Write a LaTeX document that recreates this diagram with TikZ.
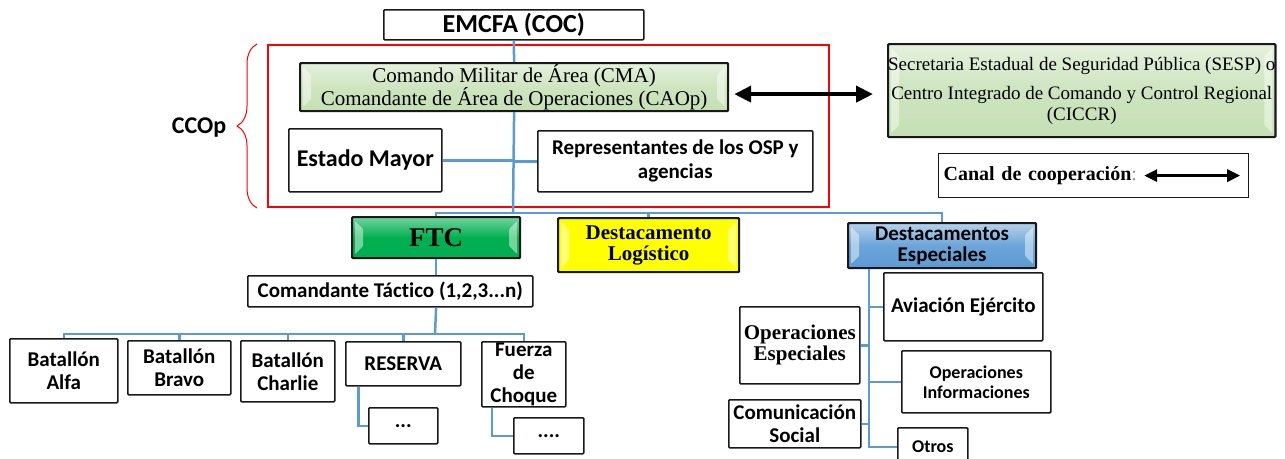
\documentclass[tikz,border=0pt]{standalone}
\usepackage{fontspec}
\setmainfont{Liberation Serif}
\newfontfamily\calibri{Carlito}[Ligatures=NoCommon]
\usetikzlibrary{arrows.meta}
\usetikzlibrary{decorations.pathreplacing}

\definecolor{orgline}{RGB}{91,155,213}
\definecolor{boxline}{RGB}{25,25,25}
\definecolor{cmagreen}{RGB}{197,224,180}
\definecolor{ftcgreen}{RGB}{0,176,80}
\definecolor{logyellow}{RGB}{255,255,0}
\definecolor{espblue}{RGB}{91,155,213}

\begin{document}
\begin{tikzpicture}[x=1pt,y=-1pt,inner sep=0pt]
\tikzstyle{every node}=[align=center]
\tikzstyle{box}=[draw=boxline,line width=1.6pt,fill=white,rounded corners=1pt,anchor=north west]
\tikzstyle{bevel}=[path picture={
  \fill[white,opacity=0.45] ([shift={(3,4)}]path picture bounding box.north west) -- ++(8,8)
    -- ([shift={(11,-12)}]path picture bounding box.south west) -- ++(-8,8) -- cycle;
  \fill[white,opacity=0.45] ([shift={(-3,4)}]path picture bounding box.north east) -- ++(-8,8)
    -- ([shift={(-11,-12)}]path picture bounding box.south east) -- ++(8,8) -- cycle;}]
\tikzstyle{colbox}=[box,line width=2.2pt,bevel]
\tikzstyle{sans}=[font=\calibri\bfseries\fontsize{21pt}{23pt}\selectfont]
\tikzstyle{serifb}=[font=\bfseries\fontsize{21pt}{21pt}\selectfont]
\tikzstyle{link}=[draw=orgline,line width=2.5pt]
\tikzstyle{coop}=[{Triangle[length=17pt,width=16pt]}-{Triangle[length=17pt,width=16pt]},line width=4pt]
\useasboundingbox (0,0) rectangle (1285,458);
\clip (0,0) rectangle (1285,458);

% comando operacional conjunto
\node[draw=red,line width=2pt,anchor=north west,minimum width=561,minimum height=162] (ccopframe) at (267,44) {};
\draw[red,line width=1pt,decorate,decoration={brace,amplitude=20pt}]
  ([xshift=-10pt]ccopframe.south west) -- ([xshift=-10pt]ccopframe.north west);
\node[sans,font=\calibri\bfseries\fontsize{24pt}{26pt}\selectfont] (ccop) at (199,128) {CCOp};

\node[box,sans,font=\calibri\bfseries\fontsize{26pt}{28pt}\selectfont,minimum width=260,minimum height=30] (emcfa) at (383,9) {EMCFA (COC)};
\node[colbox,top color=cmagreen!45!white,bottom color=cmagreen,middle color=cmagreen!85!white,
  font=\fontsize{21pt}{20pt}\selectfont,minimum width=428,minimum height=48] (cma) at (299,62)
  {Comando Militar de Área (CMA)\\Comandante de Área de Operaciones (CAOp)};
\node[box,sans,font=\calibri\bfseries\fontsize{24pt}{26pt}\selectfont,minimum width=153,minimum height=63] (estado) at (288,128) {Estado Mayor};
\node[box,sans,font=\calibri\bfseries\fontsize{21pt}{24pt}\selectfont,minimum width=275,minimum height=61] (repr) at (537,130) {Representantes de los OSP y\\agencias};

\node[colbox,top color=cmagreen!45!white,bottom color=cmagreen,middle color=cmagreen!85!white,
  font=\fontsize{19pt}{21pt}\selectfont,minimum width=387,minimum height=93] (sesp) at (887,43)
  {Secretaria Estadual de Seguridad Pública (SESP) o\\[8pt]Centro Integrado de Comando y Control Regional\\(CICCR)};
\node[box,rounded corners=0pt,line width=1.2pt,font=\bfseries\fontsize{20pt}{22pt}\selectfont,text width=300,align=left,
  inner xsep=5pt,minimum height=44] (canal) at (938,153) {Canal de cooperación\textcolor{orgline}{\mdseries:}};
\draw[{Triangle[length=13pt,width=12pt]}-{Triangle[length=13pt,width=12pt]},line width=3pt]
  ([xshift=-105pt]canal.east) -- ([xshift=-9pt]canal.east);

% fuerzas subordinadas
\node[colbox,top color=ftcgreen!55!white,bottom color=ftcgreen,middle color=ftcgreen,
  font=\bfseries\fontsize{27pt}{27pt}\selectfont,minimum width=168,minimum height=41] (ftc) at (351,216) {FTC};
\node[colbox,fill=logyellow,serifb,minimum width=181,minimum height=54] (log) at (557,217) {Destacamento\\Logístico};
\node[colbox,top color=espblue!45!white,bottom color=espblue,middle color=espblue!90!white,
  sans,font=\calibri\bfseries\fontsize{21pt}{21pt}\selectfont,minimum width=188,minimum height=45] (esp) at (847,222) {Destacamentos\\Especiales};

\node[box,sans,minimum width=285,minimum height=31] (cmdt) at (247,275) {Comandante Táctico (1,2,3...n)};
\node[box,sans,minimum width=108,minimum height=64] (alfa) at (9,338) {Batallón\\Alfa};
\node[box,sans,minimum width=103,minimum height=54] (bravo) at (127,340) {Batallón\\Bravo};
\node[box,sans,minimum width=94,minimum height=61] (charlie) at (240,340) {Batallón\\Charlie};
\node[box,sans,minimum width=115,minimum height=44] (reserva) at (345,341) {RESERVA};
\node[box,sans,minimum width=84,minimum height=65] (fuerza) at (481,341) {Fuerza\\de\\Choque};
\node[box,sans,minimum width=69,minimum height=36] (resdots) at (368,407) {...};
\node[box,sans,minimum width=70,minimum height=36] (fzadots) at (513,417) {....};

\node[box,sans,minimum width=159,minimum height=68] (aviacion) at (883,272) {Aviación Ejército};
\node[box,serifb,minimum width=120,minimum height=77] (opesp) at (739,306) {Operaciones\\Especiales};
\node[box,sans,font=\calibri\bfseries\fontsize{18pt}{20pt}\selectfont,minimum width=149,minimum height=62] (opinf) at (901,350) {Operaciones\\Informaciones};
\node[box,sans,minimum width=132,minimum height=48] (comsoc) at (728,399) {Comunicación\\Social};
\node[box,sans,font=\calibri\bfseries\fontsize{18pt}{20pt}\selectfont,minimum width=70,minimum height=38] (otros) at (897,427) {Otros};

% enlaces
\coordinate (hub) at (513,213);
\coordinate (tbus) at (435,334);
\coordinate (espbus) at ([xshift=-73pt]esp.south);
\draw[link] (emcfa.south) -- (cma.north);
\draw[link] (cma.south) -- (hub);
\draw[link] (estado.east) -- (estado.east -| cma.south);
\draw[link] (repr.west) -- (repr.west -| cma.south);
\draw[link] (hub) -| (ftc.north);
\draw[link] (hub) -| (log.north);
\draw[link] (hub) -| (esp.north);
\draw[coop] ([shift={(5,7)}]cma.east) -- ([shift={(-14,3.5)}]sesp.west);

\draw[link] (ftc.south) -- (ftc.south |- cmdt.north);
\draw[link] (ftc.south |- cmdt.south) -- (tbus);
\draw[link] (tbus) -| (alfa.north);
\draw[link] (tbus) -| (bravo.north);
\draw[link] (tbus) -| (charlie.north);
\draw[link] (tbus) -| (reserva.north);
\draw[link] (tbus) -| (fuerza.north);
\draw[link] ([xshift=-45pt]reserva.south) |- (resdots.west);
\draw[link] ([xshift=-32pt]fuerza.south) |- (fzadots.west);

\draw[link] (espbus) |- (otros.west);
\draw[link] (aviacion.west) -- (aviacion.west -| espbus);
\draw[link] (opesp.east) -- (opesp.east -| espbus);
\draw[link] (opinf.west) -- (opinf.west -| espbus);
\draw[link] (comsoc.east) -- (comsoc.east -| espbus);
\end{tikzpicture}
\end{document}
